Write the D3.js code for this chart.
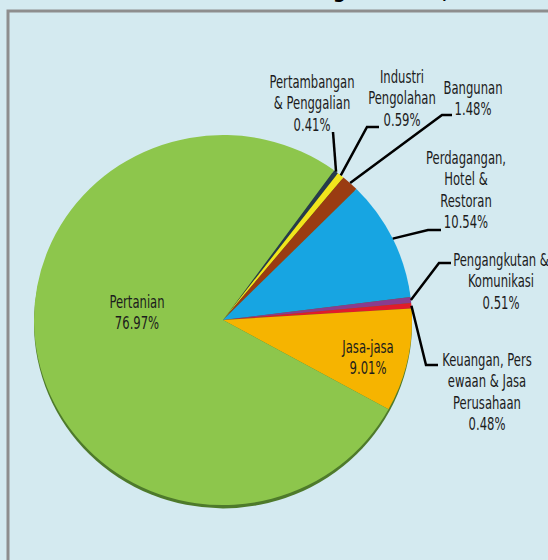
<!DOCTYPE html>
<html>
<head>
<meta charset="utf-8">
<script src="https://cdn.jsdelivr.net/npm/d3@7"></script>
<style>
body { margin: 0; background: #d4eaf0; }
svg { display: block; }
.lbl { font-family: "DejaVu Sans Condensed", "Liberation Sans Narrow", sans-serif; font-size: 17px; fill: #1c1c1c; }
.leader { fill: none; stroke: #000; stroke-width: 2.5; }
</style>
</head>
<body>
<svg id="chart"></svg>
<script>
// sectors, clockwise starting from the thin slices at the top right
var sectors = ["Pertambangan & Penggalian", "Industri Pengolahan", "Bangunan",
               "Perdagangan, Hotel & Restoran", "Pengangkutan & Komunikasi",
               "Keuangan, Persewaan & Jasa Perusahaan", "Jasa-jasa", "Pertanian"];
var shares = [0.41, 0.59, 1.48, 10.54, 0.51, 0.48, 9.01, 76.97];
var labelLines = [["Pertambangan", "& Penggalian", "0.41%"],
                  ["Industri", "Pengolahan", "0.59%"],
                  ["Bangunan", "1.48%"],
                  ["Perdagangan,", "Hotel &", "Restoran", "10.54%"],
                  ["Pengangkutan &", "Komunikasi", "0.51%"],
                  ["Keuangan, Pers", "ewaan & Jasa", "Perusahaan", "0.48%"],
                  ["Jasa-jasa", "9.01%"],
                  ["Pertanian", "76.97%"]];
var colors = ["#263b4c", "#f1e51c", "#9a3c12", "#17a5e2", "#8a3c8e", "#e11b2b", "#f6b400", "#8dc64c"];

var width = 548, height = 560;
var cx = 223, cy = 320, rx = 189, ry = 185;
var startDeg = 36;
var lineH = 21.5;
var squeeze = 0.76; // narrow the label font horizontally

// label layout: text centre x, first baseline y, leader elbow / end (null = no leader)
var labelLayout = [
  {x: 312, y: 88,  elbow: [333, 132], end: null},
  {x: 402, y: 83,  elbow: [367, 127], end: [379, 127]},
  {x: 473, y: 94,  elbow: [442, 115], end: [452, 115]},
  {x: 466, y: 164, elbow: [428, 230], end: [441, 230]},
  {x: 501, y: 266, elbow: [439, 263], end: [451, 263]},
  {x: 487, y: 366, elbow: [426, 365], end: [438, 365]},
  {x: 368, y: 353, elbow: null, end: null},
  {x: 137, y: 308, elbow: null, end: null}
];

var svg = d3.select("#chart")
  .attr("width", width)
  .attr("height", height);

svg.append("rect")
  .attr("width", width).attr("height", height)
  .attr("fill", "#d4eaf0");

// title sits above the visible area, only its descenders show
var title = svg.append("text")
  .attr("x", 0).attr("y", -2)
  .attr("font-family", "DejaVu Sans Condensed, sans-serif")
  .attr("font-size", 20).attr("font-weight", "bold")
  .attr("fill", "#000")
  .text("Struktur PDRB Atas Dasar Harga Berlaku, 2012");
var gIdx = title.text().lastIndexOf("g");
var shift = 333 - title.node().getStartPositionOfChar(gIdx).x;
title.attr("x", shift);

svg.append("rect")
  .attr("x", 8).attr("y", 11)
  .attr("width", 600).attr("height", 600)
  .attr("fill", "none")
  .attr("stroke", "#8e8e8e")
  .attr("stroke-width", 3);

var pie = d3.pie()
  .sort(null)
  .value(function(d) { return d; })
  .startAngle(startDeg * Math.PI / 180)
  .endAngle(startDeg * Math.PI / 180 + 2 * Math.PI);

var arcs = pie(shares);

var arc = d3.arc().innerRadius(0).outerRadius(rx);
var rimArc = d3.arc().innerRadius(rx).outerRadius(rx);

var gPie = svg.append("g")
  .attr("transform", "translate(" + [cx, cy] + ") scale(1," + (ry / rx) + ")");

// dark rim along the lower edge
gPie.append("circle")
  .attr("cx", 0).attr("cy", 3.5)
  .attr("r", rx)
  .attr("fill", "#4e7a2b");

gPie.selectAll("path.slice")
  .data(arcs)
  .enter()
  .append("path")
  .attr("class", "slice")
  .attr("d", arc)
  .attr("fill", function(d, i) { return colors[i]; });

// leaders
var gLead = svg.append("g");
arcs.forEach(function(d, i) {
  var L = labelLayout[i];
  if (!L.elbow) return;
  var c = rimArc.centroid(d);
  var pts = [[cx + c[0], cy + c[1] * ry / rx], L.elbow];
  if (L.end) pts.push(L.end);
  gLead.append("path")
    .attr("class", "leader")
    .attr("d", d3.line()(pts));
});

// labels
var gLab = svg.append("g");
labelLines.forEach(function(lines, i) {
  var L = labelLayout[i];
  var t = gLab.append("text")
    .attr("class", "lbl")
    .attr("text-anchor", "middle")
    .attr("transform", "translate(" + L.x + ",0) scale(" + squeeze + ",1)");
  lines.forEach(function(s, j) {
    t.append("tspan")
      .attr("x", 0)
      .attr("y", L.y + j * lineH)
      .text(s);
  });
});
</script>
</body>
</html>
